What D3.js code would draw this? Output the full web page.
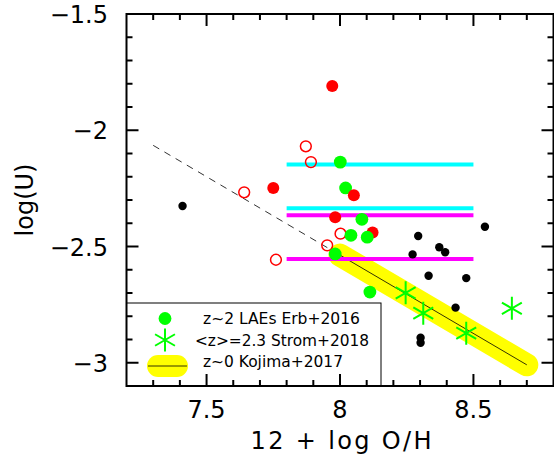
<!DOCTYPE html>
<html>
<head>
<meta charset="utf-8">
<script src="https://cdn.jsdelivr.net/npm/d3@7"></script>
<style>
  html, body { margin: 0; padding: 0; background: #fff; }
  svg { display: block; }
  text { font-family: "DejaVu Sans", sans-serif; fill: #000; }
</style>
</head>
<body>
<svg id="chart" width="554" height="458"></svg>
<script>
// ---- data ----
const blackX = [7.41, 8.293, 8.543, 8.272, 8.372, 8.394, 8.332, 8.473, 8.433, 8.302, 8.302];
const blackY = [-2.326, -2.455, -2.415, -2.534, -2.503, -2.525, -2.626, -2.636, -2.763, -2.892, -2.914];

const redFilledX = [7.971, 7.75, 7.982, 8.122, 8.052];
const redFilledY = [-1.81, -2.248, -2.374, -2.44, -2.28];

const redOpenX = [7.872, 7.891, 7.641, 7.76, 8.002, 7.952];
const redOpenY = [-2.069, -2.137, -2.267, -2.557, -2.445, -2.495];

const erbX = [8.001, 8.021, 8.082, 8.041, 8.102, 7.982, 8.112];
const erbY = [-2.137, -2.248, -2.383, -2.452, -2.46, -2.532, -2.696];

const stromX = [8.246, 8.312, 8.473, 8.644];
const stromY = [-2.699, -2.787, -2.873, -2.766];

const barXRange = [7.8, 8.5];
const cyanY = [-2.147, -2.336];
const magentaY = [-2.366, -2.554];

const kojimaX = [8.0, 8.7];
const kojimaY = [-2.537, -3.009];
const extX = [7.3, 8.0];
const extY = [-2.065, -2.537];

const xTicks = [7.5, 8, 8.5];
const xTickLabels = ["7.5", "8", "8.5"];
const yTicks = [-1.5, -2, -2.5, -3];
const yTickLabels = ["\u22121.5", "\u22122", "\u22122.5", "\u22123"];

const legendLabels = ["z~2 LAEs Erb+2016", "<z>=2.3 Strom+2018", "z~0 Kojima+2017"];

// ---- layout ----
const L = 126.5, R = 553.5, T = 14, B = 386;
const x = d3.scaleLinear().domain([7.2, 8.8]).range([L, R]);
const y = d3.scaleLinear().domain([-3.1, -1.5]).range([B, T]);

const svg = d3.select("#chart");
const GREEN = "#00ff00";

// yellow band (Kojima)
const lineGen = d3.line().x(d => x(d[0])).y(d => y(d[1]));
const kojPts = kojimaX.map((v, i) => [v, kojimaY[i]]);
svg.append("path").attr("d", lineGen(kojPts))
  .attr("stroke", "#ffff00").attr("stroke-width", 23).attr("stroke-linecap", "round").attr("fill", "none");
svg.append("path").attr("d", lineGen(kojPts))
  .attr("stroke", "#000").attr("stroke-width", 0.8).attr("fill", "none");
svg.append("path").attr("d", lineGen(extX.map((v, i) => [v, extY[i]])))
  .attr("stroke", "#333").attr("stroke-width", 1).attr("stroke-dasharray", "7,6").attr("fill", "none");

// horizontal bars
cyanY.forEach(v => svg.append("line")
  .attr("x1", x(barXRange[0])).attr("x2", x(barXRange[1])).attr("y1", y(v)).attr("y2", y(v))
  .attr("stroke", "#00ffff").attr("stroke-width", 4));
magentaY.forEach(v => svg.append("line")
  .attr("x1", x(barXRange[0])).attr("x2", x(barXRange[1])).attr("y1", y(v)).attr("y2", y(v))
  .attr("stroke", "#ff00ff").attr("stroke-width", 4));

// black points
svg.append("g").selectAll("circle").data(blackX).join("circle")
  .attr("cx", d => x(d)).attr("cy", (d, i) => y(blackY[i])).attr("r", 4.2).attr("fill", "#000");

// red open
svg.append("g").selectAll("circle").data(redOpenX).join("circle")
  .attr("cx", d => x(d)).attr("cy", (d, i) => y(redOpenY[i])).attr("r", 5.4)
  .attr("fill", "none").attr("stroke", "#ff0000").attr("stroke-width", 1.5);

// red filled (first four)
svg.append("g").selectAll("circle").data(redFilledX.slice(0, 4)).join("circle")
  .attr("cx", d => x(d)).attr("cy", (d, i) => y(redFilledY[i])).attr("r", 6).attr("fill", "#ff0000");

// green Erb
svg.append("g").selectAll("circle").data(erbX).join("circle")
  .attr("cx", d => x(d)).attr("cy", (d, i) => y(erbY[i])).attr("r", 6.4).attr("fill", GREEN);

// remaining red filled drawn on top
svg.append("g").selectAll("circle").data(redFilledX.slice(4)).join("circle")
  .attr("cx", d => x(d)).attr("cy", (d, i) => y(redFilledY[i + 4])).attr("r", 6).attr("fill", "#ff0000");

// asterisk
function asterisk(g, cx, cy, s) {
  const h = s / 2;
  const a = Math.PI / 6;
  const p = `M${cx},${cy - h}L${cx},${cy + h}` +
    `M${cx - h * Math.cos(a)},${cy - h * Math.sin(a)}L${cx + h * Math.cos(a)},${cy + h * Math.sin(a)}` +
    `M${cx - h * Math.cos(a)},${cy + h * Math.sin(a)}L${cx + h * Math.cos(a)},${cy - h * Math.sin(a)}`;
  g.append("path").attr("d", p).attr("stroke", GREEN).attr("stroke-width", 2).attr("fill", "none");
}
const sg = svg.append("g");
stromX.forEach((v, i) => asterisk(sg, x(v), y(stromY[i]), 23));

// legend
const lg = svg.append("g");
lg.append("rect").attr("x", L).attr("y", 303).attr("width", 381 - L).attr("height", B - 303)
  .attr("fill", "#fff").attr("stroke", "#000").attr("stroke-width", 1);
lg.append("circle").attr("cx", 165).attr("cy", 318.5).attr("r", 6.4).attr("fill", GREEN);
asterisk(lg, 165, 340, 23);
lg.append("line").attr("x1", 158).attr("x2", 177).attr("y1", 366).attr("y2", 366)
  .attr("stroke", "#ffff00").attr("stroke-width", 22).attr("stroke-linecap", "round");
lg.append("line").attr("x1", 148).attr("x2", 187).attr("y1", 366).attr("y2", 366)
  .attr("stroke", "#000").attr("stroke-width", 0.8);
const legPos = [[203, 323.5, 157], [195, 346, 174], [203, 367, 140]];
legendLabels.forEach((t, i) => lg.append("text")
  .attr("x", legPos[i][0]).attr("y", legPos[i][1])
  .attr("font-size", 16).attr("textLength", legPos[i][2]).attr("lengthAdjust", "spacingAndGlyphs")
  .text(t));

// frame & ticks
const ax = svg.append("g").attr("stroke", "#000").attr("stroke-width", 2);
ax.append("rect").attr("x", L).attr("y", T).attr("width", R - L).attr("height", B - T).attr("fill", "none");
const xMinor = d3.range(73, 88).map(v => v / 10);
xMinor.forEach(v => {
  const major = Math.abs(v * 2 - Math.round(v * 2)) < 1e-6;
  const len = major ? 12 : 6;
  ax.append("line").attr("x1", x(v)).attr("x2", x(v)).attr("y1", B).attr("y2", B - len);
  ax.append("line").attr("x1", x(v)).attr("x2", x(v)).attr("y1", T).attr("y2", T + len);
});
const yMinor = d3.range(-30, -15).map(v => v / 10);
yMinor.forEach(v => {
  const major = Math.abs(v * 2 - Math.round(v * 2)) < 1e-6;
  const len = major ? 12 : 6;
  ax.append("line").attr("x1", L).attr("x2", L + len).attr("y1", y(v)).attr("y2", y(v));
  ax.append("line").attr("x1", R).attr("x2", R - len).attr("y1", y(v)).attr("y2", y(v));
});

// tick labels
xTicks.forEach((v, i) => svg.append("text")
  .attr("x", x(v)).attr("y", 418).attr("text-anchor", "middle").attr("font-size", 24)
  .text(xTickLabels[i]));
yTicks.forEach((v, i) => svg.append("text")
  .attr("x", 108).attr("y", y(v) + 9).attr("text-anchor", "end").attr("font-size", 24)
  .text(yTickLabels[i]));

// axis titles
svg.append("text").attr("x", 341).attr("y", 449).attr("text-anchor", "middle")
  .attr("font-size", 24).attr("textLength", 181).attr("lengthAdjust", "spacing")
  .text("12 + log O/H");
svg.append("text").attr("transform", "translate(33,200) rotate(-90)").attr("text-anchor", "middle")
  .attr("font-size", 24)
  .text("log(U)");
</script>
</body>
</html>
